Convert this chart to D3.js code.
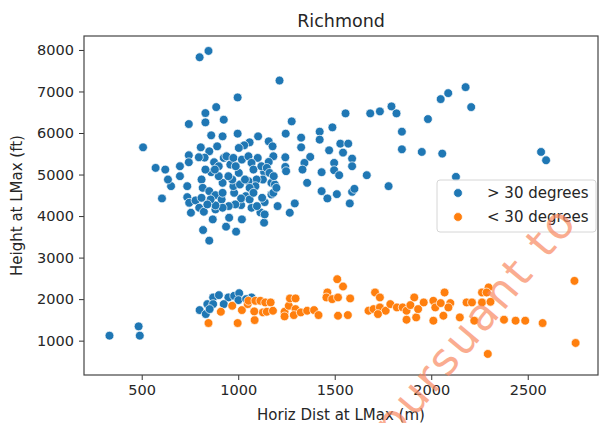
<!DOCTYPE html>
<html>
<head>
<meta charset="utf-8">
<script src="https://cdn.jsdelivr.net/npm/d3@7"></script>
<style>
  body { margin: 0; background: #fff; }
  text { font-family: "DejaVu Sans", sans-serif; fill: #262626; }
</style>
</head>
<body>
<div id="chart"></div>
<script>
// data: [horiz dist (m), height (ft)]
const highAngle = [
  [800,7824],[846,7976],[1214,7264],[2178,7104],[2088,6960],[2049,6816],[2207,6624],[997,6856],[1983,6336],
  [1794,6640],[1734,6520],[1684,6472],[1820,6472],[1556,6472],[1277,6280],[925,6320],[886,6624],[830,6480],
  [830,6256],[744,6216],[1488,6136],[1422,6032],[1422,5840],[1848,6032],[1848,5608],[1951,5544],[2057,5504],
  [2128,4944],[2569,5544],[2595,5344],[1246,5984],[1326,5888],[1326,5656],[1471,5584],[1529,5744],[1570,5744],
  [1543,5528],[1590,5384],[1590,5200],[1497,5280],[1497,5104],[1523,4984],[1666,4984],[1779,4720],[1432,5056],
  [1432,4600],[1462,4424],[1511,4528],[1590,4584],[1578,4304],[1602,4656],[1373,5424],[1343,5280],[1333,5120],
  [1357,4800],[1244,5416],[1244,5184],[1248,5080],[1293,4304],[1267,4080],[1204,4240],[1103,5920],[1059,5776],
  [1031,5704],[997,5984],[860,5944],[919,5920],[891,5680],[850,5560],[806,5656],[826,5408],[796,5416],
  [744,5464],[744,5296],[698,5200],[698,4960],[652,4720],[636,4880],[622,5120],[572,5160],[605,4424],
  [507,5656],[736,4720],[736,4456],[755,4080],[746,4320],[779,4376],[798,4200],[822,4104],[818,3664],
  [850,3408],[868,3920],[882,4160],[937,3744],[953,3960],[989,3624],[1019,3920],[1015,4264],[1069,4200],
  [1115,4088],[1134,3840],[1137,4336],[1172,4520],[1182,4560],[1158,5800],[1178,5680],[1182,5440],[1158,5304],
  [1134,5064],[1128,4880],[1172,4800],[1190,4760],[1101,5400],[1095,4880],[1089,4720],[1053,4840],[1059,4680],
  [1039,4480],[1015,4424],[979,4560],[975,4720],[969,4880],[959,5240],[925,5400],[875,5296],[860,5056],
  [830,5120],[810,4880],[816,4680],[850,4600],[882,4504],[914,4400],[919,4560],[919,4800],[949,4960],
  [899,4960],[939,5440],[975,5400],[1003,5640],[899,5200],[879,5120],[1059,4400],[1079,4560],[1124,4440],
  [1137,4040],[1097,4240],[985,4280],[951,4240],[919,4200],[882,4256],[857,4400],[840,4280],[810,4440],
  [1009,4760],[1035,4880],[1003,5040],[987,5200],[1019,5360],[1053,5440],[1069,5280],[1079,5120],[1120,5200],
  [1148,5160],[1162,5040],[1184,4960],[1198,4680],
  [800,1736],[840,1880],[870,2040],[900,2096],[949,2040],[979,2080],[1005,2144],[925,1880],[870,1880],
  [832,1640],[852,1760],[1069,2040],[1001,1976],[1041,2000],[333,1120],[484,1344],[490,1120]
]
const lowAngle = [
  [846,1424],[997,1424],[910,1696],[969,1840],[1019,1736],[1049,1880],[1085,1496],[1053,1960],[1089,1960],
  [1115,1960],[1140,1920],[1168,1920],[1128,1680],[1083,1704],[1148,1696],[1180,1720],[1240,1696],[1240,1584],
  [1262,1840],[1297,1760],[1268,2016],[1297,2016],[1288,1616],[1324,1680],[1357,1720],[1393,1736],[1416,1616],
  [1462,2160],[1457,2040],[1487,2000],[1513,2480],[1543,2304],[1517,2040],[1580,2016],[1517,1600],[1568,1616],
  [1709,2160],[1734,2040],[1675,1720],[1701,1760],[1734,1800],[1764,1720],[1724,1640],[1788,1880],[1822,1800],
  [1852,1800],[1872,1720],[1872,1504],[1912,2040],[1892,1856],[1922,1560],[1932,1760],[1961,1920],[2011,1960],
  [2021,1800],[2011,1480],[2069,2160],[2063,1600],[2049,1904],[2099,1904],[2148,1560],[2183,1920],[2211,1920],
  [2223,1480],[2263,2160],[2297,2280],[2263,1920],[2307,1936],[2287,2160],[2293,680],[2377,1504],[2437,1480],
  [2487,1480],[2577,1424],[2742,2440],[2748,944],[2089,1800]
]
const seriesNames = ["> 30 degrees", "< 30 degrees"]
const seriesColors = ["#1f77b4", "#ff7f0e"]
const xTicks = [500, 1000, 1500, 2000, 2500]
const yTicks = [1000, 2000, 3000, 4000, 5000, 6000, 7000, 8000]

const dimensions = {
  width: 602,
  height: 423,
  margin: { top: 36, right: 4, bottom: 48, left: 84 },
}
dimensions.boundedWidth = dimensions.width - dimensions.margin.left - dimensions.margin.right
dimensions.boundedHeight = dimensions.height - dimensions.margin.top - dimensions.margin.bottom

const wrapper = d3.select("#chart")
  .append("svg")
  .attr("width", dimensions.width)
  .attr("height", dimensions.height)

const bounds = wrapper.append("g")
  .attr("transform", `translate(${dimensions.margin.left},${dimensions.margin.top})`)

const xScale = d3.scaleLinear()
  .domain([201, 2864])
  .range([0, dimensions.boundedWidth])
const yScale = d3.scaleLinear()
  .domain([173, 8336])
  .range([dimensions.boundedHeight, 0])

// points
const drawSeries = (data, color) => {
  bounds.append("g")
    .selectAll("circle")
    .data(data)
    .join("circle")
    .attr("cx", d => xScale(d[0]))
    .attr("cy", d => yScale(d[1]))
    .attr("r", 4.4)
    .attr("fill", color)
    .attr("stroke", "#fff")
    .attr("stroke-width", 0.7)
}
drawSeries(highAngle, seriesColors[0])
drawSeries(lowAngle, seriesColors[1])

// axes
const xAxis = bounds.append("g")
  .attr("transform", `translate(0,${dimensions.boundedHeight})`)
  .call(d3.axisBottom(xScale).tickValues(xTicks).tickSize(5).tickPadding(5).tickFormat(d3.format("d")))
const yAxis = bounds.append("g")
  .call(d3.axisLeft(yScale).tickValues(yTicks).tickSize(5).tickPadding(5).tickFormat(d3.format("d")))
;[xAxis, yAxis].forEach(a => {
  a.select(".domain").remove()
  a.selectAll("line").attr("stroke", "#333").attr("stroke-width", 1)
  a.selectAll("text").style("font-size", "14.5px").attr("fill", "#262626")
})

bounds.append("rect")
  .attr("width", dimensions.boundedWidth)
  .attr("height", dimensions.boundedHeight)
  .attr("fill", "none")
  .attr("stroke", "#444")
  .attr("stroke-width", 1.2)

// labels
wrapper.append("text")
  .attr("x", dimensions.margin.left + dimensions.boundedWidth / 2)
  .attr("y", 27)
  .attr("text-anchor", "middle")
  .style("font-size", "17.5px")
  .text("Richmond")
wrapper.append("text")
  .attr("x", dimensions.margin.left + dimensions.boundedWidth / 2)
  .attr("y", 420)
  .attr("text-anchor", "middle")
  .style("font-size", "15px")
  .text("Horiz Dist at LMax (m)")
wrapper.append("text")
  .attr("transform", `translate(22,${dimensions.margin.top + dimensions.boundedHeight / 2}) rotate(-90)`)
  .attr("text-anchor", "middle")
  .style("font-size", "15px")
  .text("Height at LMax (ft)")

// legend
const legend = wrapper.append("g").attr("transform", "translate(437,180)")
legend.append("rect")
  .attr("width", 159)
  .attr("height", 52)
  .attr("rx", 3)
  .attr("fill", "#fff")
  .attr("fill-opacity", 0.8)
  .attr("stroke", "#d6d6d6")
seriesNames.forEach((name, i) => {
  legend.append("circle")
    .attr("cx", 21)
    .attr("cy", 13 + i * 24)
    .attr("r", 4.4)
    .attr("fill", seriesColors[i])
    .attr("stroke", "#fff")
    .attr("stroke-width", 0.7)
  legend.append("text")
    .attr("x", 50)
    .attr("y", 18 + i * 24)
    .style("font-size", "15px")
    .text(name)
})

// watermark overlay
wrapper.append("text")
  .attr("transform", "translate(394,442) rotate(-50)")
  .style("font-size", "44px")
  .style("letter-spacing", "3px")
  .style("fill", "#f98a62")
  .attr("opacity", 0.7)
  .text("pursuant to")
</script>
</body>
</html>
